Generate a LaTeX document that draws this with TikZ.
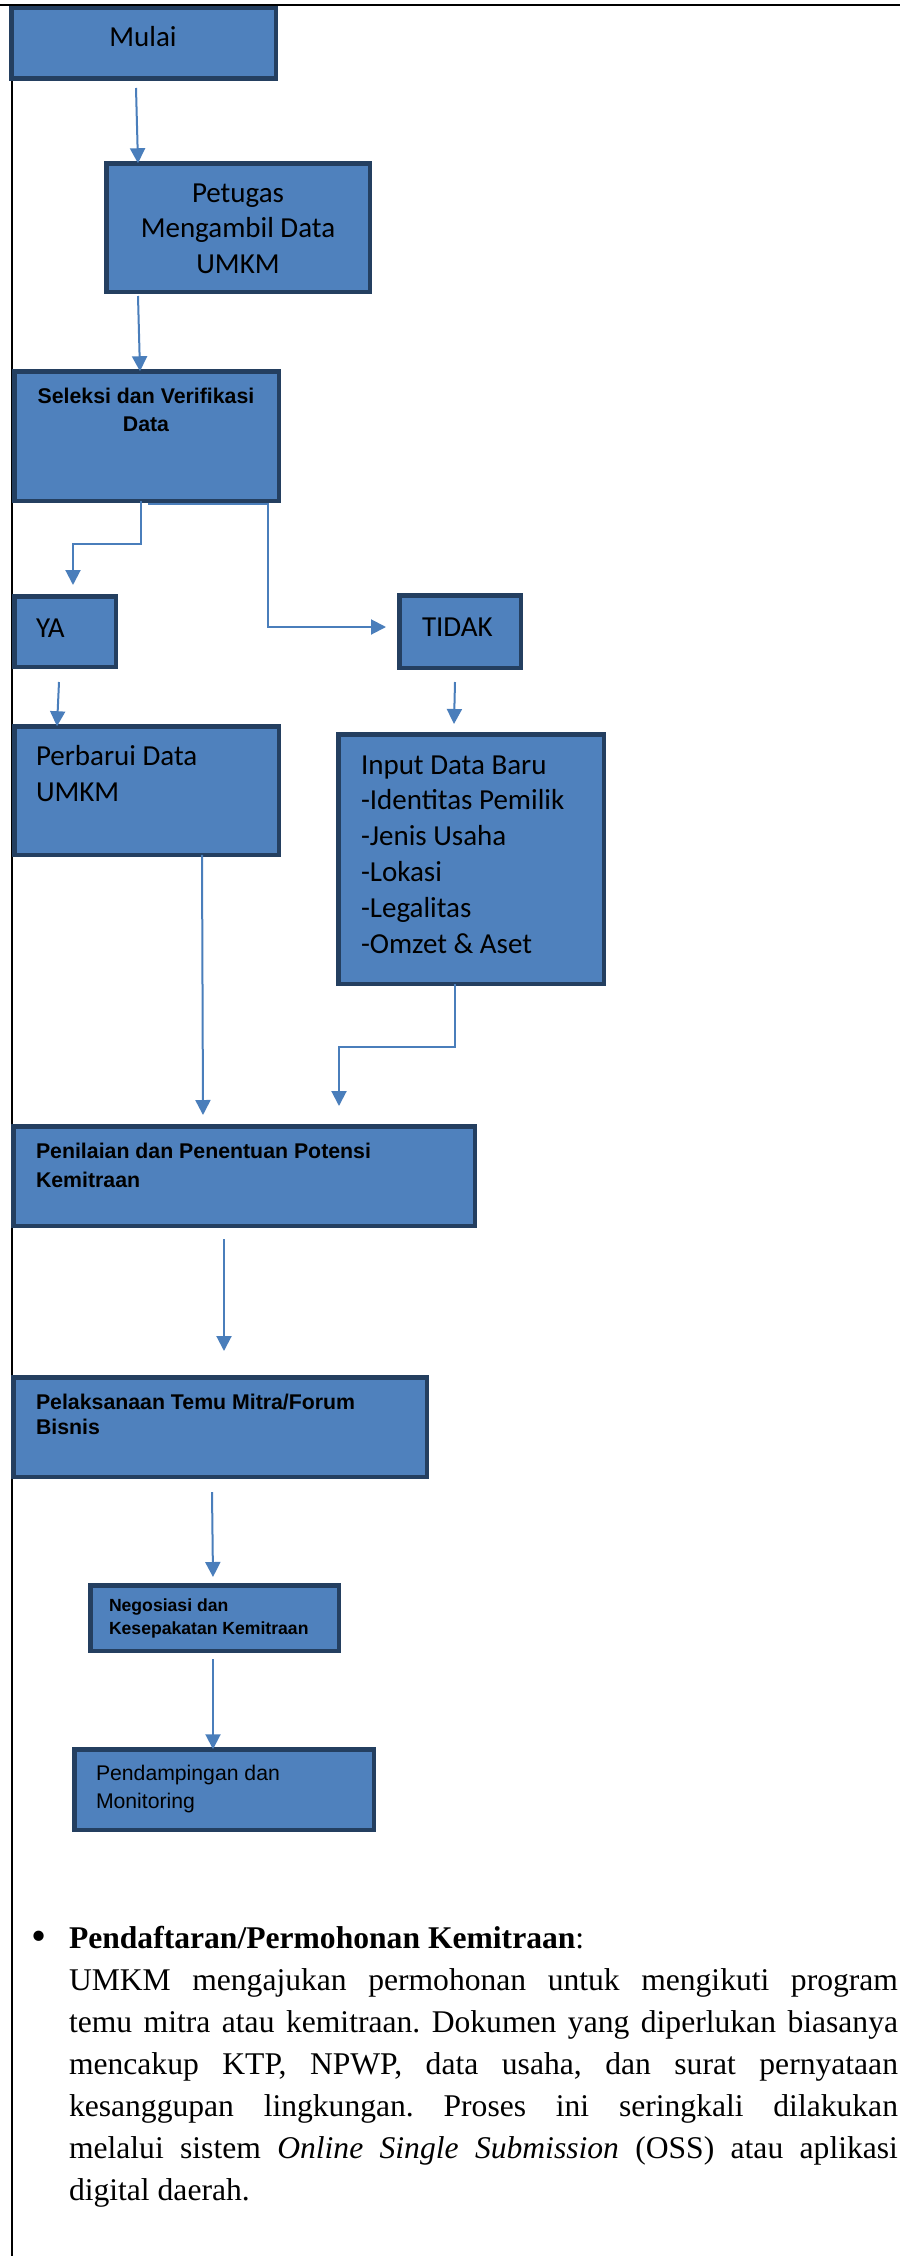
\documentclass[tikz,border=0pt]{standalone}
\usepackage{fontspec}
\setmainfont{Liberation Serif}
\newfontfamily\calfont{Carlito}
\newfontfamily\arialfont{Liberation Sans}
\usetikzlibrary{arrows.meta}
\definecolor{boxfill}{HTML}{4F81BD}
\definecolor{boxline}{HTML}{243F60}
\definecolor{arrowblue}{HTML}{4A7EBB}
\frenchspacing
\tikzset{
  flowbox/.style={draw=boxline, fill=boxfill, line width=4.5pt, inner sep=0pt, outer sep=0pt, anchor=north west},
  conn/.style={draw=arrowblue, line width=2pt},
  arr/.style={conn, -{Triangle[length=15pt,width=15pt]}},
  txt/.style={inner sep=0pt, outer sep=0pt, anchor=base west, text=black},
  ctxt/.style={txt, anchor=base},
  calt/.style={font=\calfont\fontsize{29}{35.5}\selectfont},
  boldt/.style={font=\arialfont\bfseries\fontsize{21.3}{28.5}\selectfont},
}
\begin{document}
\begin{tikzpicture}[x=1pt,y=-1pt]
\useasboundingbox (0,0) rectangle (900,2256);
\fill[white] (0,0) rectangle (900,2256);
% frame lines
\draw[black, line width=2.3pt] (0,5) -- (900,5);
\draw[black, line width=2pt] (12,5) -- (12,2256);

% boxes
\node[flowbox, minimum width=264.5pt, minimum height=70.5pt] (mulai) at (11.25,8.25) {};
\node[flowbox, minimum width=263.5pt, minimum height=128.5pt] (petugas) at (106.25,163.25) {};
\node[flowbox, minimum width=264.5pt, minimum height=129.5pt] (seleksi) at (14.25,371.25) {};
\node[flowbox, minimum width=101.5pt, minimum height=70.5pt] (ya) at (14.25,596.25) {};
\node[flowbox, minimum width=121.5pt, minimum height=72.5pt] (tidak) at (399.25,595.25) {};
\node[flowbox, minimum width=264.5pt, minimum height=128.5pt] (perbarui) at (14.25,726.25) {};
\node[flowbox, minimum width=265.5pt, minimum height=249.5pt] (input) at (338.25,734.25) {};
\node[flowbox, minimum width=461.5pt, minimum height=99.5pt] (penilaian) at (13.25,1126.25) {};
\node[flowbox, minimum width=413.5pt, minimum height=99.5pt] (pelaksanaan) at (13.25,1377.25) {};
\node[flowbox, minimum width=248.5pt, minimum height=65.5pt] (negosiasi) at (90.25,1585.25) {};
\node[flowbox, minimum width=299.5pt, minimum height=80.5pt] (pendampingan) at (74.25,1749.25) {};

% texts
\node[ctxt, calt] (t-mulai) at (143,47) {Mulai};
\node[ctxt, calt] (t-petugas) at (238,202) {\parbox[t]{260pt}{\centering Petugas\\Mengambil Data\\UMKM}};
\node[ctxt, boldt] (t-seleksi) at (146,403) {\parbox[t]{260pt}{\centering Seleksi dan Verifikasi\\Data}};
\node[txt, calt] (t-ya) at (36,637) {YA};
\node[txt, calt] (t-tidak) at (422,636.5) {TIDAK};
\node[txt, calt] (t-perbarui) at (36,765) {\parbox[t]{240pt}{\raggedright\baselineskip=36pt Perbarui Data\\UMKM}};
\node[txt, calt] (t-input) at (361,774) {\parbox[t]{240pt}{\raggedright\baselineskip=35.8pt Input Data Baru\\-Identitas Pemilik\\-Jenis Usaha\\-Lokasi\\-Legalitas\\-Omzet \& Aset}};
\node[txt, boldt] (t-penilaian) at (36,1158) {\parbox[t]{430pt}{\raggedright\baselineskip=29pt Penilaian dan Penentuan Potensi\\Kemitraan}};
\node[txt, boldt] (t-pelaksanaan) at (36,1409) {\parbox[t]{390pt}{\raggedright\baselineskip=25pt Pelaksanaan Temu Mitra/Forum\\Bisnis}};
\node[txt, font=\arialfont\bfseries\fontsize{17.6}{23}\selectfont] (t-negosiasi) at (109,1611) {\parbox[t]{230pt}{\raggedright Negosiasi dan\\Kesepakatan Kemitraan}};
\node[txt, font=\arialfont\fontsize{21.2}{28}\selectfont] (t-pendampingan) at (96,1780) {\parbox[t]{270pt}{\raggedright Pendampingan dan\\Monitoring}};

% connectors
\coordinate (a1s) at (136,88);
\coordinate (a2s) at (138,296);
\coordinate (e1e) at (73,585);
\coordinate (e2e) at (386,627);
\coordinate (a3s) at (59,682);
\coordinate (a4s) at (455,682);
\coordinate (a4e) at (454,724);
\coordinate (a5e) at (203,1115);
\coordinate (e3e) at (339,1106);
\coordinate (a6s) at (224,1239);
\coordinate (a6e) at (224,1351);
\coordinate (a7s) at (212,1492);
\coordinate (a7e) at (213,1577);
\coordinate (a8s) at (213,1659);

\draw[arr] (a1s) -- (138,0 |- petugas.north);
\draw[arr] (a2s) -- (140,0 |- seleksi.north);
\draw[arr] (141,0 |- seleksi.south) -- (141,544) -- (73,544) -- (e1e);
\draw[arr] (148,504) -- (268,504) -- (268,627) -- (e2e);
\draw[arr] (a3s) -- (57,0 |- perbarui.north);
\draw[arr] (a4s) -- (a4e);
\draw[arr] (202,0 |- perbarui.south) -- (a5e);
\draw[arr] (455,0 |- input.south) -- (455,1047) -- (339,1047) -- (e3e);
\draw[arr] (a6s) -- (a6e);
\draw[arr] (a7s) -- (a7e);
\draw[arr] (a8s) -- (213,0 |- pendampingan.north);

% bullet paragraph
\node[txt, font=\fontsize{43}{43}\selectfont] (bullet) at (31,1950) {\textbullet};
\node[txt] (para) at (69,1948) {\parbox[t]{829pt}{\fontsize{31.6}{42}\selectfont
\textbf{Pendaftaran/Permohonan Kemitraan}:\\
UMKM mengajukan permohonan untuk mengikuti program\linebreak
temu mitra atau kemitraan. Dokumen yang diperlukan biasanya\linebreak
mencakup KTP, NPWP, data usaha, dan surat pernyataan\linebreak
kesanggupan lingkungan. Proses ini seringkali dilakukan\linebreak
melalui sistem \textit{Online Single Submission} (OSS) atau aplikasi\linebreak
digital daerah.}};
\end{tikzpicture}
\end{document}
